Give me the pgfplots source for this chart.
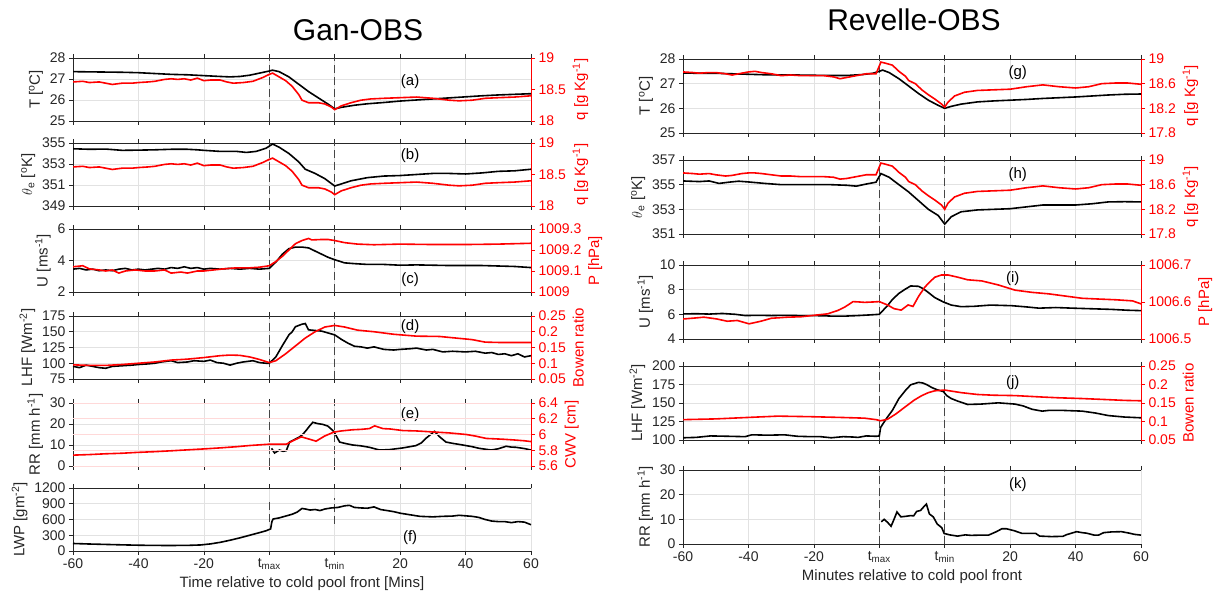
\documentclass[border=0pt]{standalone}
\usepackage{fontspec}
\setmainfont{Liberation Sans}
\usepackage{pgfplots}
\pgfplotsset{compat=1.18}
\definecolor{mgray}{RGB}{38,38,38}
\definecolor{mred}{RGB}{255,0,0}
\definecolor{gridc}{RGB}{226,226,226}
\definecolor{dashc}{RGB}{70,70,70}
\newcommand{\fs}{\fontsize{14}{16}\selectfont}
\newcommand{\fl}{\fontsize{15}{17}\selectfont}
\tikzset{plab/.style={font=\fl, text=black},
 blk/.style={black, line width=1.6pt},
 rd/.style={mred, line width=1.6pt},
 dsh/.style={dashc, line width=0.8pt, dash pattern=on 8pt off 4pt}}
\pgfplotsset{
 base/.style={scale only axis, width=458pt, xmin=-60, xmax=80,
   xtick={-60,-40,-20,0,20,40,60,80}, xticklabels={},
   scaled ticks=false,
   tick align=outside, major tick length=4pt,
   /pgf/number format/assume math mode=true,
   /pgf/number format/fixed, /pgf/number format/precision=2,
   /pgf/number format/1000 sep={},
   ticklabel style={font=\fs},
   anchor=south west},
 leftax/.style={base, axis x line*=box, axis y line*=left,
   axis line style={mgray, line width=0.7pt}, tick style={mgray, line width=0.7pt},
   ticklabel style={text=mgray}, ylabel style={font=\fl, text=mgray}, xlabel style={font=\fl, text=mgray},
   grid=major, major grid style={gridc, line width=0.6pt}},
 rightax/.style={base, axis x line=none, axis y line*=right,
   axis line style={mred, line width=0.7pt}, y tick style={mred, line width=0.7pt},
   yticklabel style={text=mred}, ylabel style={font=\fl, text=mred}},
 bottomlab/.style={xticklabels={-60,-40,-20,t\textsubscript{max},t\textsubscript{min},20,40,60}},
}
\begin{document}
\begin{tikzpicture}
% ================= LEFT COLUMN =================
% (a)
\begin{axis}[leftax, at={(73pt,488pt)}, height=63pt, ymin=25, ymax=28, ytick={25,26,27,28},
  ylabel={T [\textsuperscript{o}C]}]
\addplot[dsh] coordinates {(0,25) (0,28)};
\addplot[dsh] coordinates {(20,25) (20,28)};
\addplot[blk] coordinates {(-60,27.35) (-55,27.34) (-50,27.33) (-45,27.32) (-40,27.3) (-35,27.26) (-30,27.22) (-25,27.2) (-20,27.16) (-15,27.12) (-12,27.1) (-9,27.12) (-6,27.18) (-3,27.28) (0,27.38) (1,27.42) (3,27.35) (6,27.1) (9,26.75) (12,26.4) (15,26.1) (18,25.8) (20,25.58) (22,25.65) (26,25.75) (30,25.82) (35,25.88) (40,25.95) (45,26.0) (50,26.05) (55,26.1) (60,26.15) (65,26.2) (70,26.24) (75,26.27) (80,26.3)};
\node[plab] at (rel axis cs:0.736,0.62) {(a)};
\end{axis}
\begin{axis}[rightax, at={(73pt,488pt)}, height=63pt, ymin=18, ymax=19, ytick={18,18.5,19},
  ylabel={q [g Kg\textsuperscript{-1}]}]
\addplot[rd] coordinates {(-60,18.62) (-57,18.63) (-55,18.61) (-52,18.62) (-50,18.6) (-48,18.58) (-45,18.6) (-42,18.6) (-40,18.61) (-37,18.62) (-35,18.63) (-32,18.66) (-30,18.67) (-28,18.66) (-26,18.67) (-24,18.65) (-22,18.68) (-20,18.64) (-18,18.65) (-15,18.65) (-13,18.62) (-11,18.6) (-8,18.61) (-5,18.63) (-2,18.69) (0,18.74) (1,18.76) (3,18.7) (5,18.64) (7,18.55) (9,18.42) (10,18.33) (12,18.29) (15,18.29) (17,18.27) (19,18.22) (20,18.18) (22,18.24) (25,18.29) (28,18.33) (31,18.35) (35,18.36) (40,18.37) (45,18.38) (50,18.36) (55,18.33) (58,18.32) (62,18.33) (66,18.36) (70,18.37) (75,18.38) (80,18.4)};
\end{axis}
% (b)
\begin{axis}[leftax, at={(73pt,403pt)}, height=63pt, ymin=349, ymax=355, ytick={349,351,353,355},
  ylabel={$\theta$\textsubscript{e} [\textsuperscript{o}K]}]
\addplot[dsh] coordinates {(0,349) (0,355)};
\addplot[dsh] coordinates {(20,349) (20,355)};
\addplot[blk] coordinates {(-60,354.45) (-55,354.4) (-50,354.42) (-47,354.35) (-45,354.3) (-40,354.32) (-35,354.35) (-30,354.4) (-25,354.4) (-22,354.35) (-20,354.3) (-15,354.2) (-10,354.2) (-7,354.1) (-4,354.2) (-1,354.5) (1,354.9) (3,354.6) (6,354.0) (9,353.2) (11,352.5) (14,352.1) (17,351.6) (20,350.9) (22,351.1) (25,351.4) (30,351.7) (35,351.85) (40,351.9) (45,352.0) (50,352.1) (55,352.1) (60,352.05) (65,352.15) (70,352.3) (75,352.35) (80,352.5)};
\node[plab] at (rel axis cs:0.736,0.8) {(b)};
\end{axis}
\begin{axis}[rightax, at={(73pt,403pt)}, height=63pt, ymin=18, ymax=19, ytick={18,18.5,19},
  ylabel={q [g Kg\textsuperscript{-1}]}]
\addplot[rd] coordinates {(-60,18.62) (-57,18.63) (-55,18.61) (-52,18.62) (-50,18.6) (-48,18.58) (-45,18.6) (-42,18.6) (-40,18.61) (-37,18.62) (-35,18.63) (-32,18.66) (-30,18.67) (-28,18.66) (-26,18.67) (-24,18.65) (-22,18.68) (-20,18.64) (-18,18.65) (-15,18.65) (-13,18.62) (-11,18.6) (-8,18.61) (-5,18.63) (-2,18.69) (0,18.74) (1,18.76) (3,18.7) (5,18.64) (7,18.55) (9,18.42) (10,18.33) (12,18.29) (15,18.29) (17,18.27) (19,18.22) (20,18.18) (22,18.24) (25,18.29) (28,18.33) (31,18.35) (35,18.36) (40,18.37) (45,18.38) (50,18.36) (55,18.33) (58,18.32) (62,18.33) (66,18.36) (70,18.37) (75,18.38) (80,18.4)};
\end{axis}
% (c)
\begin{axis}[leftax, at={(73pt,317pt)}, height=63pt, ymin=2, ymax=6, ytick={2,4,6},
  ylabel={U [ms\textsuperscript{-1}]}]
\addplot[dsh] coordinates {(0,2) (0,6)};
\addplot[dsh] coordinates {(20,2) (20,6)};
\addplot[blk] coordinates {(-60,3.45) (-58,3.5) (-56,3.4) (-54,3.45) (-52,3.35) (-50,3.4) (-48,3.35) (-46,3.45) (-44,3.5) (-42,3.4) (-40,3.45) (-38,3.4) (-36,3.45) (-34,3.5) (-32,3.45) (-30,3.55) (-28,3.5) (-26,3.6) (-24,3.5) (-22,3.55) (-20,3.45) (-18,3.5) (-15,3.45) (-12,3.5) (-9,3.45) (-6,3.5) (-3,3.45) (0,3.5) (2,3.9) (4,4.4) (6,4.75) (8,4.85) (10,4.85) (12,4.8) (15,4.5) (18,4.2) (20,4.05) (23,3.85) (26,3.8) (30,3.75) (35,3.75) (40,3.7) (45,3.72) (50,3.7) (55,3.68) (60,3.68) (65,3.68) (70,3.65) (75,3.62) (80,3.55)};
\node[plab] at (rel axis cs:0.736,0.2) {(c)};
\end{axis}
\begin{axis}[rightax, at={(73pt,317pt)}, height=63pt, ymin=1009, ymax=1009.3, ytick={1009,1009.1,1009.2,1009.3},
  ylabel={P [hPa]}]
\addplot[rd] coordinates {(-60,1009.12) (-57,1009.125) (-55,1009.11) (-52,1009.105) (-50,1009.1) (-48,1009.105) (-46,1009.09) (-44,1009.1) (-41,1009.105) (-38,1009.1) (-35,1009.1) (-32,1009.105) (-30,1009.09) (-27,1009.095) (-25,1009.09) (-22,1009.1) (-20,1009.1) (-17,1009.105) (-14,1009.11) (-10,1009.115) (-6,1009.115) (-3,1009.118) (0,1009.125) (2,1009.145) (4,1009.17) (6,1009.2) (8,1009.23) (10,1009.245) (12,1009.255) (13,1009.248) (16,1009.25) (18,1009.25) (20,1009.245) (23,1009.235) (27,1009.228) (32,1009.225) (40,1009.228) (50,1009.226) (60,1009.226) (70,1009.228) (80,1009.232)};
\end{axis}
% (d)
\begin{axis}[leftax, at={(73pt,230pt)}, height=63pt, ymin=75, ymax=175, ytick={75,100,125,150,175},
  ylabel={LHF [Wm\textsuperscript{-2}]}]
\addplot[dsh] coordinates {(0,75) (0,175)};
\addplot[dsh] coordinates {(20,75) (20,175)};
\addplot[blk] coordinates {(-60,95) (-58,93) (-56,97) (-54,95) (-52,93) (-50,92) (-48,95) (-45,96) (-42,97) (-40,98) (-37,99) (-35,100) (-33,102) (-30,104) (-28,101) (-25,102) (-23,104) (-20,103) (-18,105) (-16,101) (-14,100) (-12,97) (-10,100) (-8,102) (-5,104) (-3,101) (-1,100) (0,100) (2,110) (4,128) (6,145) (7,150) (8,158) (9,160) (10,162) (11,163) (12,153) (14,152) (16,151) (18,148) (20,145) (22,138) (24,132) (26,127) (28,126) (30,124) (32,126) (35,122) (38,121) (40,122) (43,123) (45,124) (48,121) (50,122) (53,118) (56,119) (60,118) (63,119) (66,116) (68,117) (70,114) (72,115) (74,112) (76,115) (78,110) (80,112)};
\node[plab] at (rel axis cs:0.736,0.83) {(d)};
\end{axis}
\begin{axis}[rightax, at={(73pt,230pt)}, height=63pt, ymin=0.05, ymax=0.25, ytick={0.05,0.1,0.15,0.2,0.25},
  ylabel={Bowen ratio}]
\addplot[rd] coordinates {(-60,0.095) (-55,0.093) (-50,0.093) (-45,0.096) (-40,0.1) (-35,0.104) (-30,0.11) (-25,0.113) (-20,0.118) (-15,0.124) (-12,0.126) (-9,0.125) (-6,0.12) (-3,0.112) (0,0.102) (2,0.108) (5,0.13) (8,0.155) (11,0.18) (14,0.2) (17,0.215) (20,0.22) (23,0.215) (27,0.205) (32,0.2) (38,0.192) (45,0.186) (52,0.185) (57,0.18) (62,0.175) (66,0.167) (70,0.166) (75,0.166) (80,0.166)};
\end{axis}
% (e)
\begin{axis}[leftax, at={(73pt,143pt)}, height=63pt, ymin=0, ymax=30, ytick={0,10,20,30},
  ylabel={RR [mm h\textsuperscript{-1}]}]
\addplot[dsh] coordinates {(0,0) (0,30)};
\addplot[dsh] coordinates {(20,0) (20,30)};
\addplot[blk] coordinates {(0.7,8.4) (1.6,6.2) (3.1,7.6) (4.2,7.0) (5.2,7.3) (6.2,11.4) (7.7,12.6) (9.2,13.8) (10.2,15) (11.3,17) (12.3,19) (13.3,20.8) (14.8,20.2) (16.4,19.8) (17.9,19) (19.7,16.5) (21.5,11.4) (23,10.8) (25.5,10) (28,9.6) (30.6,8.9) (33.7,7.6) (36.7,7.8) (40.8,8.6) (44.8,9.7) (46.5,11) (47.9,13.2) (50.5,16.5) (52,14) (54,11.4) (56,10.8) (59.1,10) (62,9.2) (64.2,8.4) (67.8,7.6) (70,8.2) (72.4,9.4) (74,9.0) (75.4,8.9) (78,8.3) (80,7.6)};
\node[plab] at (rel axis cs:0.736,0.81) {(e)};
\end{axis}
\begin{axis}[rightax, at={(73pt,143pt)}, height=63pt, ymin=5.6, ymax=6.4, ytick={5.6,5.8,6,6.2,6.4},
  ylabel={CWV [cm]}, ymajorgrids=true, major grid style={mred!15, line width=0.6pt}]
\addplot[rd] coordinates {(-60,5.738) (-55,5.745) (-50,5.755) (-45,5.762) (-40.7,5.772) (-35,5.782) (-30,5.793) (-25,5.805) (-20.3,5.816) (-15,5.83) (-10,5.845) (-6,5.86) (-0.3,5.876) (2,5.876) (5.2,5.876) (7.2,5.92) (9.8,5.97) (12.3,5.94) (14.3,5.915) (16.9,5.98) (19.7,6.03) (22,6.045) (25.5,6.06) (28,6.065) (30.6,6.075) (32.2,6.11) (34.7,6.075) (37,6.07) (40.8,6.05) (45,6.045) (51,6.03) (55,6.02) (60.2,6.0) (63,5.98) (66.3,5.95) (71.4,5.94) (75,5.93) (78,5.92) (80,5.91)};
\end{axis}
% (f)
\begin{axis}[leftax, bottomlab, at={(73pt,58pt)}, height=63pt, ymin=0, ymax=1200, ytick={0,300,600,900,1200},
  ylabel={LWP [gm\textsuperscript{-2}]}, xlabel={Time relative to cold pool front [Mins]}]
\addplot[dsh] coordinates {(0,560) (0,1000)};
\addplot[dsh] coordinates {(20,520) (20,1000)};
\addplot[blk] coordinates {(-60,143) (-55,133) (-50,125) (-45,117) (-40,110) (-35,106) (-30,105) (-25,107) (-21,115) (-18,135) (-15,165) (-12,205) (-9,250) (-6,300) (-3,350) (-1,385) (0,410) (0.4,420) (0.8,560) (1.2,610) (3,630) (5,665) (7,700) (8.5,740) (10,810) (11,800) (12.5,780) (14,790) (15.5,770) (17,800) (19,820) (21,830) (23,860) (24.5,870) (26,830) (28,820) (30,815) (32,840) (34,790) (36,770) (38,750) (40,720) (43,690) (46,660) (50,650) (53,660) (56,665) (58,680) (60,670) (62,660) (64,640) (66,600) (68,570) (70,560) (72,560) (74,540) (76,560) (78,550) (80,500)};
\node[plab] at (rel axis cs:0.736,0.22) {(f)};
\end{axis}
\node[font=\fontsize{30}{34}\selectfont, text=black] at (358pt,579pt) {Gan-OBS};
% ================= RIGHT COLUMN =================
% (g)
\begin{axis}[leftax, at={(683pt,476pt)}, height=74pt, ymin=25, ymax=28, ytick={25,26,27,28},
  ylabel={T [\textsuperscript{o}C]}]
\addplot[dsh] coordinates {(0,25) (0,28)};
\addplot[dsh] coordinates {(20,25) (20,28)};
\addplot[blk] coordinates {(-60,27.43) (-55,27.42) (-50,27.42) (-45,27.4) (-40,27.38) (-35,27.36) (-30,27.35) (-25,27.35) (-20,27.34) (-15,27.33) (-10,27.33) (-5,27.37) (-2,27.42) (0,27.5) (1,27.55) (3,27.45) (6,27.2) (9,26.9) (12,26.6) (15,26.33) (18,26.12) (20,26.0) (22,26.08) (25,26.17) (30,26.26) (35,26.3) (40,26.33) (45,26.36) (50,26.4) (55,26.43) (60,26.46) (65,26.5) (70,26.54) (75,26.57) (80,26.58)};
\node[plab] at (rel axis cs:0.731,0.81) {(g)};
\end{axis}
\begin{axis}[rightax, at={(683pt,476pt)}, height=74pt, ymin=17.8, ymax=19, ytick={17.8,18.2,18.6,19},
  ylabel={q [g Kg\textsuperscript{-1}]}]
\addplot[rd] coordinates {(-60,18.79) (-57,18.78) (-55,18.77) (-52,18.78) (-50,18.78) (-47,18.76) (-45,18.74) (-42,18.77) (-40,18.79) (-38,18.8) (-36,18.78) (-33,18.76) (-30,18.73) (-27,18.74) (-24,18.73) (-20,18.73) (-17,18.73) (-14,18.71) (-12,18.68) (-10,18.7) (-7,18.73) (-4,18.76) (-1,18.76) (0.5,18.95) (2,18.93) (4,18.9) (6,18.8) (8,18.72) (9,18.65) (11,18.6) (13,18.5) (15,18.42) (17,18.35) (19,18.27) (20,18.22) (21,18.3) (23,18.4) (26,18.46) (30,18.49) (35,18.5) (40,18.51) (45,18.55) (50,18.58) (55,18.55) (60,18.53) (64,18.55) (68,18.6) (72,18.61) (76,18.61) (80,18.59)};
\end{axis}
% (h)
\begin{axis}[leftax, at={(683pt,375pt)}, height=74pt, ymin=351, ymax=357, ytick={351,353,355,357},
  ylabel={$\theta$\textsubscript{e} [\textsuperscript{o}K]}]
\addplot[dsh] coordinates {(0,351) (0,357)};
\addplot[dsh] coordinates {(20,351) (20,357)};
\addplot[blk] coordinates {(-60,355.3) (-55,355.25) (-52,355.3) (-49,355.1) (-46,355.2) (-43,355.28) (-40,355.22) (-35,355.1) (-30,355.0) (-25,355.0) (-20,355.0) (-15,355.0) (-10,354.95) (-7,354.88) (-4,355.05) (-1,355.2) (0.5,355.9) (3,355.6) (6,355.0) (9,354.4) (12,353.7) (15,353.0) (18,352.5) (20,351.8) (22,352.4) (25,352.8) (30,352.95) (35,353.0) (40,353.05) (45,353.2) (50,353.35) (55,353.35) (60,353.35) (65,353.45) (70,353.6) (75,353.62) (80,353.6)};
\node[plab] at (rel axis cs:0.731,0.8) {(h)};
\end{axis}
\begin{axis}[rightax, at={(683pt,375pt)}, height=74pt, ymin=17.8, ymax=19, ytick={17.8,18.2,18.6,19},
  ylabel={q [g Kg\textsuperscript{-1}]}]
\addplot[rd] coordinates {(-60,18.79) (-57,18.78) (-55,18.77) (-52,18.78) (-50,18.76) (-47,18.74) (-45,18.75) (-42,18.78) (-40,18.79) (-38,18.79) (-36,18.78) (-33,18.76) (-30,18.74) (-27,18.74) (-24,18.73) (-20,18.73) (-17,18.73) (-14,18.72) (-12,18.69) (-10,18.7) (-7,18.73) (-4,18.76) (-1,18.76) (0.5,18.95) (2,18.93) (4,18.9) (6,18.8) (8,18.72) (9,18.65) (11,18.6) (13,18.5) (15,18.42) (17,18.35) (19,18.27) (20,18.2) (21,18.3) (23,18.4) (26,18.46) (30,18.49) (35,18.5) (40,18.51) (45,18.55) (50,18.58) (55,18.55) (60,18.53) (64,18.55) (68,18.6) (72,18.61) (76,18.61) (80,18.59)};
\end{axis}
% (i)
\begin{axis}[leftax, at={(683pt,270pt)}, height=74pt, ymin=4, ymax=10, ytick={4,6,8,10},
  ylabel={U [ms\textsuperscript{-1}]}]
\addplot[dsh] coordinates {(0,4) (0,10)};
\addplot[dsh] coordinates {(20,4) (20,10)};
\addplot[blk] coordinates {(-60,6.03) (-56,6.05) (-52,6.02) (-48,6.07) (-44,6.0) (-41,5.9) (-37,5.92) (-33,5.9) (-29,5.92) (-25,5.9) (-21,5.9) (-17,5.88) (-14,5.85) (-10,5.86) (-6.5,5.9) (-3,5.95) (0,6.0) (2.5,6.7) (4,7.2) (6,7.7) (8,8.05) (9.6,8.3) (12,8.27) (13.3,8.1) (14.6,7.85) (17,7.35) (19.6,7.0) (22,6.75) (25,6.62) (29,6.65) (34,6.75) (40.5,6.7) (45,6.6) (48.8,6.5) (54,6.55) (59,6.5) (65,6.45) (71,6.4) (76,6.33) (80,6.3)};
\node[plab] at (rel axis cs:0.72,0.81) {(i)};
\end{axis}
\begin{axis}[rightax, at={(683pt,270pt)}, height=74pt, ymin=1006.5, ymax=1006.7, ytick={1006.5,1006.6,1006.7},
  ylabel={P [hPa]}]
\addplot[rd] coordinates {(-60,1006.554) (-56,1006.557) (-53.6,1006.559) (-49.6,1006.554) (-46.5,1006.548) (-43.4,1006.55) (-39.8,1006.541) (-36.2,1006.548) (-33,1006.556) (-28,1006.559) (-24,1006.56) (-21,1006.563) (-15.8,1006.568) (-12.7,1006.577) (-10.6,1006.586) (-8,1006.601) (-6,1006.6) (-4.5,1006.599) (-2,1006.6) (0,1006.601) (2.5,1006.592) (4.5,1006.582) (6.7,1006.578) (8.8,1006.592) (10.3,1006.588) (12,1006.615) (13.9,1006.64) (15.5,1006.655) (17,1006.667) (19,1006.673) (21,1006.673) (24,1006.667) (27,1006.66) (31.3,1006.657) (36.4,1006.646) (41.5,1006.632) (46.7,1006.626) (51.8,1006.622) (56.9,1006.616) (62,1006.61) (67,1006.608) (72.3,1006.606) (77.4,1006.603) (80,1006.595)};
\end{axis}
% (j)
\begin{axis}[leftax, at={(683pt,169pt)}, height=74pt, ymin=100, ymax=200, ytick={100,125,150,175,200},
  ylabel={LHF [Wm\textsuperscript{-2}]}]
\addplot[dsh] coordinates {(0,100) (0,200)};
\addplot[dsh] coordinates {(20,100) (20,200)};
\addplot[blk] coordinates {(-60,103) (-56,103.5) (-51.6,105.5) (-46,105) (-41,104.5) (-39,107) (-34,106.5) (-29,107) (-25,105) (-21,104.5) (-18,104.5) (-14.7,103) (-11,104.5) (-8,104) (-6.5,103.5) (-4,105.5) (-1,105) (0,105.5) (0.4,117) (2.5,131) (4,140) (6,156) (8,167) (9.6,174.6) (12,177.9) (13.3,177) (14.6,174.6) (16,171) (17.6,168) (19.6,165.4) (20.6,160) (22,156) (24,152.5) (27,148) (31,148.5) (36.4,150.2) (41.5,148.5) (44,146) (46.7,141.5) (49.8,139) (51.8,140) (56,140) (62,139) (66,136.5) (70,133) (75,131) (80,130)};
\node[plab] at (rel axis cs:0.72,0.77) {(j)};
\end{axis}
\begin{axis}[rightax, at={(683pt,169pt)}, height=74pt, ymin=0.05, ymax=0.25, ytick={0.05,0.1,0.15,0.2,0.25},
  ylabel={Bowen ratio}]
\addplot[rd] coordinates {(-60,0.105) (-50,0.107) (-40,0.111) (-31,0.1145) (-21,0.113) (-12,0.111) (-4.5,0.109) (-1,0.105) (0.4,0.102) (2.5,0.106) (5,0.12) (8,0.14) (10.7,0.158) (13,0.17) (15,0.178) (17,0.183) (20,0.185) (25,0.178) (30,0.173) (35,0.171) (41.5,0.17) (50,0.166) (55,0.164) (62,0.162) (70,0.159) (75,0.157) (80,0.156)};
\end{axis}
% (k)
\begin{axis}[leftax, bottomlab, at={(683pt,65pt)}, height=74pt, ymin=0, ymax=30, ytick={0,10,20,30},
  ylabel={RR [mm h\textsuperscript{-1}]}, xlabel={Minutes relative to cold pool front}]
\addplot[dsh] coordinates {(0,0) (0,30)};
\addplot[dsh] coordinates {(20,0) (20,30)};
\addplot[blk] coordinates {(0.6,9) (1.5,10) (2.5,8.8) (3.6,7.2) (4.5,10) (5.4,13) (6.6,11) (8,11.2) (9.6,11.5) (10.5,11.4) (11.4,13.2) (12.6,13.6) (13.8,15.4) (14.4,16.2) (15.3,12.2) (16.5,11) (17.7,8.1) (19.1,6.6) (19.8,4.3) (21.5,3.7) (23.9,3.2) (26.3,3.7) (28,3.5) (31,3.6) (33.4,3.6) (35.8,5) (37.5,6.2) (38.8,6.2) (41.2,5.4) (43.6,4.3) (47.8,4.3) (49,3.2) (52.6,3) (56.1,3.1) (57.3,3.8) (60.3,5) (62,4.6) (63.3,4.4) (65.7,3.6) (67,3.6) (68.6,4.6) (71,4.9) (74,5) (76.4,4.4) (78,3.9) (80,3.6)};
\node[plab] at (rel axis cs:0.731,0.8) {(k)};
\end{axis}
\node[font=\fontsize{30}{34}\selectfont, text=black] at (914pt,589pt) {Revelle-OBS};
\pgfresetboundingbox
\useasboundingbox (0pt,0pt) rectangle (1215pt,609pt);
\end{tikzpicture}
\end{document}
